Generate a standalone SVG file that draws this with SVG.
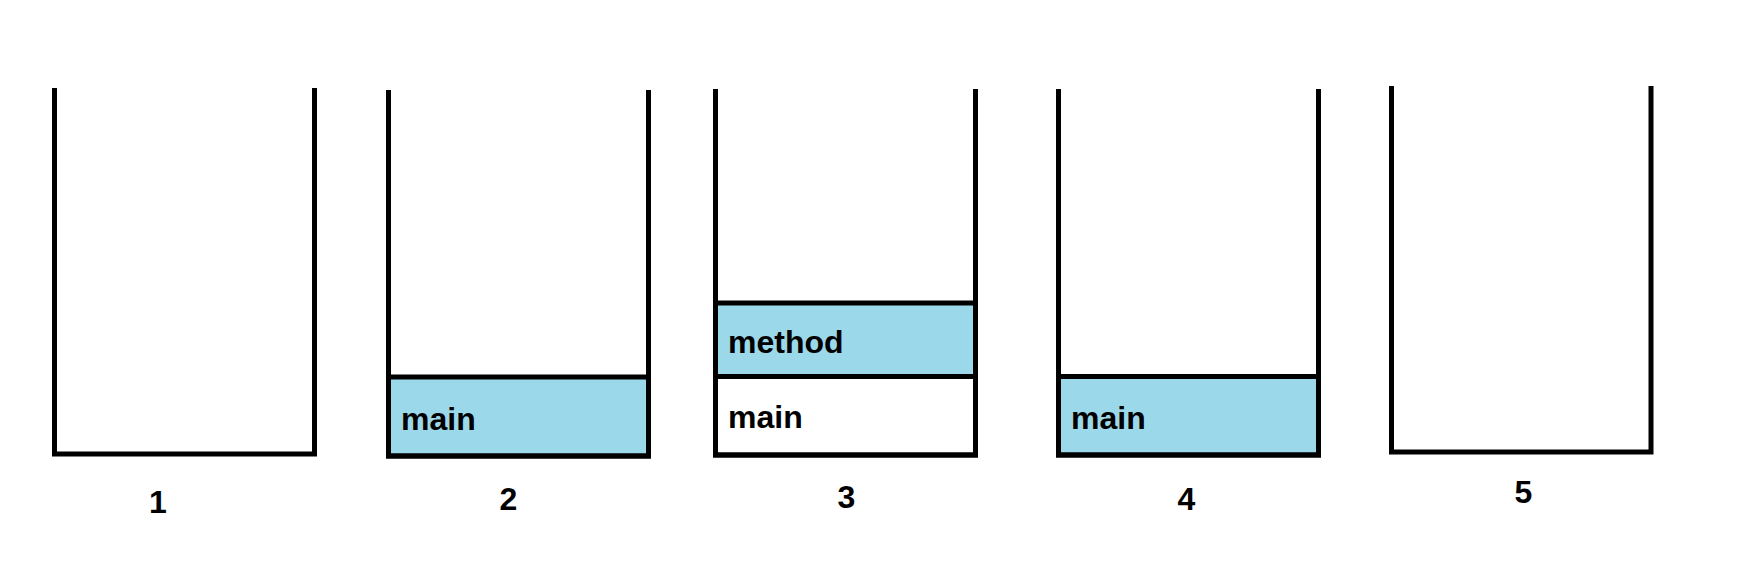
<svg xmlns="http://www.w3.org/2000/svg" width="1743" height="562" viewBox="0 0 1743 562">
  <style>
    .wall { fill: none; stroke: #000; stroke-width: 5; stroke-linecap: butt; stroke-linejoin: miter; }
    .frame { fill: #9BD9EA; stroke: #000; stroke-width: 5; }
    .frame.empty { fill: #fff; }
    .name { font-family: "Liberation Sans", Arial, sans-serif; font-weight: bold; font-size: 32px; fill: #000; }
    .step { font-family: "Liberation Sans", Arial, sans-serif; font-weight: bold; font-size: 32px; fill: #000; text-anchor: middle; }
  </style>
  <rect width="1743" height="562" fill="#fff"/>

  <!-- stage 1: empty stack -->
  <g id="stack1">
    <path class="wall" d="M54.5,88 V454 H314.5 V88"/>
    <text class="step" x="158" y="513">1</text>
  </g>

  <!-- stage 2: main pushed -->
  <g id="stack2">
    <rect class="frame" x="388.5" y="377" width="260" height="79"/>
    <path class="wall" d="M388.5,90 V456 H648.5 V90"/>
    <text class="name" x="401" y="430">main</text>
    <text class="step" x="508.5" y="510">2</text>
  </g>

  <!-- stage 3: method on top of main -->
  <g id="stack3">
    <rect class="frame empty" x="715.5" y="376.5" width="260" height="78.5"/>
    <rect class="frame" x="715.5" y="303" width="260" height="73.5"/>
    <path class="wall" d="M715.5,89 V455 H975.5 V89"/>
    <text class="name" x="728" y="353">method</text>
    <text class="name" x="728" y="428">main</text>
    <text class="step" x="846.5" y="508">3</text>
  </g>

  <!-- stage 4: method popped -->
  <g id="stack4">
    <rect class="frame" x="1058.5" y="376.5" width="260" height="78.5"/>
    <path class="wall" d="M1058.5,89 V455 H1318.5 V89"/>
    <text class="name" x="1071" y="429">main</text>
    <text class="step" x="1186.5" y="510">4</text>
  </g>

  <!-- stage 5: empty again -->
  <g id="stack5">
    <path class="wall" d="M1391.5,86 V452 H1651 V86"/>
    <text class="step" x="1523.5" y="503">5</text>
  </g>

  <g id="connectors"></g>
</svg>
